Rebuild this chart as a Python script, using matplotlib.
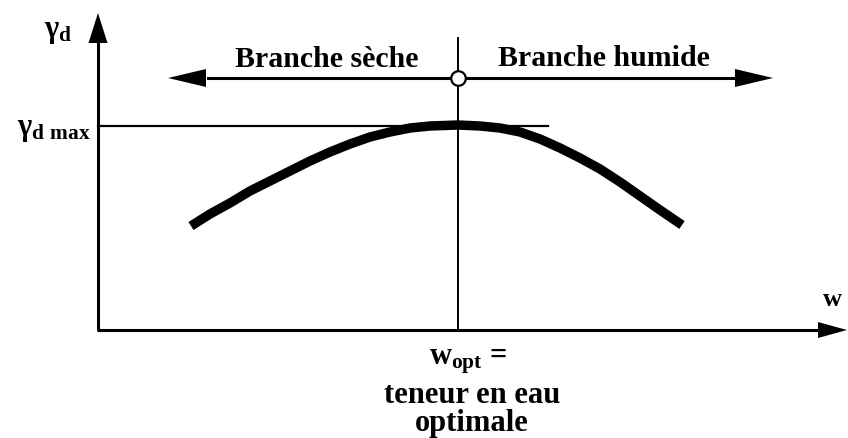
import matplotlib
matplotlib.use("Agg")
import matplotlib.pyplot as plt

# Compaction (Proctor) curve (arbitrary units, origin at axes corner)
w_curve = [93, 112, 132, 152, 172, 192, 212, 232, 252, 272, 292, 312, 332, 360,
           382, 402, 422, 442, 462, 482, 502, 522, 542, 562, 584]
gd_curve = [104, 116, 127, 139, 149, 159, 169, 178, 186, 193, 198, 202, 204, 205,
            204, 202, 198, 191, 182, 172, 161, 148, 134, 120, 105]
w_opt = 360
gd_max = 204

label_left = "Branche sèche"
label_right = "Branche humide"
label_bottom = ["teneur en eau", "optimale"]

plt.rcParams['mathtext.fontset'] = 'custom'
plt.rcParams['mathtext.rm'] = 'Liberation Serif:bold'
plt.rcParams['mathtext.it'] = 'Liberation Serif:bold'
plt.rcParams['mathtext.bf'] = 'Liberation Serif:bold'

fig = plt.figure(figsize=(8.48, 4.38), dpi=100)
ax = fig.add_axes([0, 0, 1, 1])
ax.set_xlim(-98, 750)
ax.set_ylim(-108, 330)
ax.axis('off')

serif = dict(family='Liberation Serif', weight='bold', color='black')

# axes with arrows
ax.plot([0, 0], [0, 300], color='k', lw=2.2, solid_capstyle='butt')
ax.arrow(0, 285, 0, 32, width=0, head_width=19, head_length=30,
         length_includes_head=True, color='k', lw=0)
ax.plot([-1, 725], [0, 0], color='k', lw=2.2, solid_capstyle='butt')
ax.arrow(715, 0, 34, 0, width=0, head_width=16, head_length=29,
         length_includes_head=True, color='k', lw=0)

# gamma_d max horizontal line and w_opt vertical line
ax.plot([0, 450], [gd_max, gd_max], color='k', lw=1.6)
ax.plot([w_opt, w_opt], [0, 292], color='k', lw=1.4)

# curve
ax.plot(w_curve, gd_curve, color='k', lw=6.8, solid_capstyle='butt',
        solid_joinstyle='round')

# branch arrows
arrow_y = 252
ax.plot([110, 640], [arrow_y, arrow_y], color='k', lw=2.2)
ax.arrow(115, arrow_y, -45, 0, width=0, head_width=18, head_length=38,
         length_includes_head=True, color='k', lw=0)
ax.arrow(630, arrow_y, 45, 0, width=0, head_width=18, head_length=38,
         length_includes_head=True, color='k', lw=0)
ax.plot([w_opt], [arrow_y], marker='o', ms=10.5, mfc='white', mec='k',
        mew=1.6, zorder=5)

ax.text(229, 263, label_left, ha='center', va='baseline', fontsize=21.5, **serif)
ax.text(506, 264, label_right, ha='center', va='baseline', fontsize=21.5, **serif)

# axis labels
ax.text(-54, 299, r'$\mathrm{\gamma}_{\mathrm{d}}$', ha='left', va='center',
        fontsize=22, **serif)
ax.text(-7, 201, r'$\mathrm{\gamma}_{\mathrm{d\ max}}$', ha='right', va='center',
        fontsize=22, **serif)
ax.text(734, 30, 'w', ha='center', va='center', fontsize=19, **serif)

ax.text(370, -31, r'$\mathrm{w}_{\mathrm{opt}}$ =', ha='center', va='center',
        fontsize=22, **serif)
ax.text(374, -73, "\n".join(label_bottom), ha='center', va='top',
        multialignment='center', linespacing=0.95, fontsize=22,
        **serif).set_y(-51)

fig.savefig('out.png', dpi=100, facecolor='white')
